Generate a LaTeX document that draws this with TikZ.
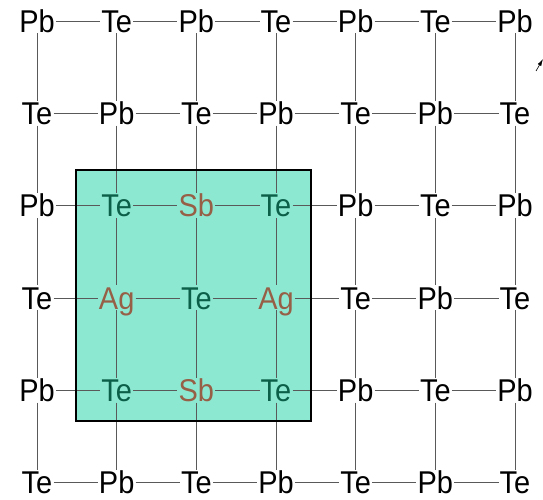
\documentclass[tikz,border=0pt]{standalone}
\usepackage{fontspec}
\setmainfont{Liberation Sans}
\newfontfamily\atomfont[FakeStretch=0.92]{Liberation Sans}
\usepackage{tikz}
\usetikzlibrary{arrows.meta}

\definecolor{cellfill}{HTML}{8DE8D2}
\definecolor{tegreen}{HTML}{0B5E48}
\definecolor{dopant}{HTML}{965F46}

\tikzset{
  atom/.style={inner sep=1pt,text height=22.5pt,text depth=0pt,
    font=\atomfont\fontsize{31.5}{32}\selectfont},
  bond/.style={draw=black!65,line width=0.8pt},
}

\begin{document}
\begin{tikzpicture}[x=1pt,y=-1pt]
\useasboundingbox (0,0) rectangle (543,500);

% substituted cell
\node[fill=cellfill,minimum width=235pt,minimum height=251pt,inner sep=0pt] (cell) at (193.5,295.5) {};

% atoms
\foreach \r in {0,...,5}
  \foreach \c in {0,...,6} {
    \pgfmathtruncatemacro{\odd}{mod(\r+\c,2)}
    \pgfmathtruncatemacro{\inbox}{and(\r>1,\r<5)*and(\c>0,\c<4)}
    \def\atcol{black}
    \ifnum\odd=1
      \def\elem{Te}
      \ifnum\inbox=1 \def\atcol{tegreen}\fi
    \else
      \def\elem{Pb}
      \ifnum\inbox=1
        \ifodd\r \def\elem{Ag}\else \def\elem{Sb}\fi
        \def\atcol{dopant}
      \fi
    \fi
    \node[atom,text=\atcol] (a-\r-\c) at ({37+79.67*\c},{21+92.3*\r}) {\elem};
  }

% bonds
\foreach \r in {0,...,5}
  \foreach \c [count=\n] in {0,...,5}
    \draw[bond] (a-\r-\c) -- (a-\r-\n);
\foreach \c in {0,...,6}
  \foreach \r [count=\n] in {0,...,4}
    \draw[bond] (a-\r-\c) -- (a-\n-\c);

\draw[line width=1.6pt] (cell.north west) rectangle (cell.south east);

% axis stub
\coordinate (ax-tail) at (536,71);
\coordinate (ax-tip) at (543,59);
\draw[line width=0.6pt,-{Latex[length=7pt,width=4pt]}] (ax-tail) -- (ax-tip);

\end{tikzpicture}
\end{document}
